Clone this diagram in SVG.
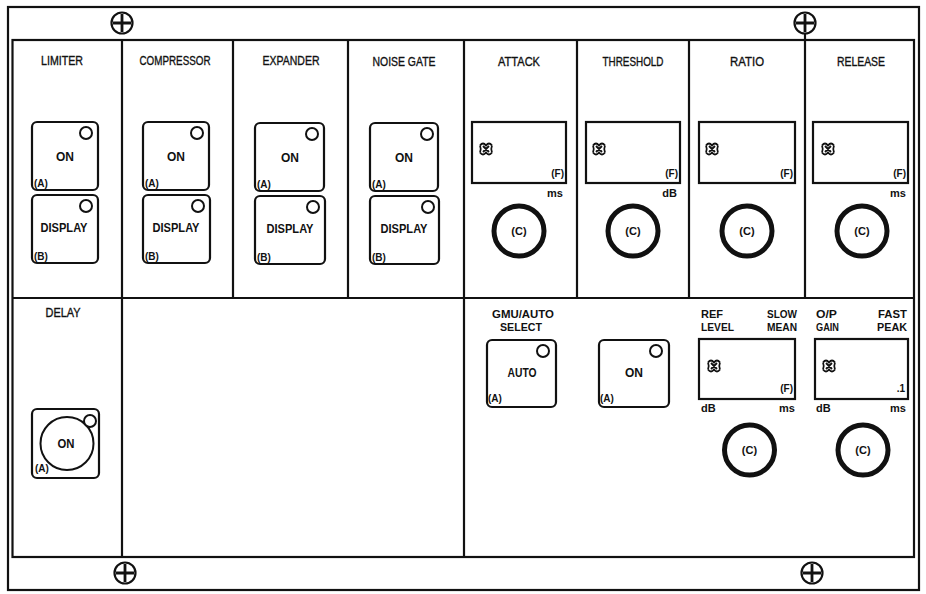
<svg xmlns="http://www.w3.org/2000/svg" width="926" height="594" viewBox="0 0 926 594">
<defs>
<style>
text{font-family:"Liberation Sans",Arial,sans-serif;fill:#111}
.hd{font-size:13px;text-anchor:middle;stroke:#111;stroke-width:0.35}
.bt{font-size:12px;font-weight:bold;text-anchor:middle}
.sm{font-size:10px;font-weight:bold}
.un{font-size:11px;font-weight:bold;text-anchor:end}
.us{font-size:11px;font-weight:bold;text-anchor:start}
.kn{font-size:11px;font-weight:bold;text-anchor:middle}
.lb{font-size:10.5px;font-weight:bold}
.ln{fill:none;stroke:#111;stroke-width:2.2}
.btn{fill:#fff;stroke:#111;stroke-width:2.2}
.led{fill:#fff;stroke:#111;stroke-width:2}
.disp{fill:#fff;stroke:#111;stroke-width:2.2}
.knob{fill:#fff;stroke:#111;stroke-width:5}
.scr{fill:none;stroke:#111;stroke-width:2.2}
.gl{fill:none;stroke:#111;stroke-width:1.8}
</style>
<g id="seg" class="gl">
<path d="M1,3.5 q3,-4 6,0 q3,-4 6,0 M1,10.5 q3,4 6,0 q3,4 6,0 M1,3.5 q1.5,3.5 0,7 M13,3.5 q-1.5,3.5 0,7 M4,4 l6,6 M10,4 l-6,6"/>
</g>
<g id="screw">
<circle r="10.5" class="scr"/>
<path d="M-9,0 H9 M0,-9 V9" stroke="#111" stroke-width="2.8"/>
</g>
</defs>
<rect width="926" height="594" fill="#fff"/>

<g id="frame">
<rect x="8" y="7" width="911" height="583" class="ln"/>
<rect x="12.5" y="40" width="901.5" height="517" class="ln"/>
<path class="ln" d="M12.5,298 H914 M122,40 V557 M233,40 V298 M348,40 V298 M464,40 V557 M577,40 V298 M689,40 V298 M805,34 V298"/>
<use href="#screw" x="122" y="23"/>
<use href="#screw" x="805" y="23"/>
<use href="#screw" x="125" y="573"/>
<use href="#screw" x="812" y="573"/>
</g>

<g id="limiter">
<text class="hd" x="62" y="65" textLength="42" lengthAdjust="spacingAndGlyphs">LIMITER</text>
<rect class="btn" x="32" y="122" width="66" height="68" rx="5"/>
<circle class="led" cx="86" cy="133" r="6"/>
<text class="bt" x="65" y="161" textLength="18" lengthAdjust="spacingAndGlyphs">ON</text>
<text class="sm" x="34" y="187">(A)</text>
<rect class="btn" x="32" y="195" width="66" height="68" rx="5"/>
<circle class="led" cx="86" cy="206" r="6"/>
<text class="bt" x="64" y="232" textLength="47" lengthAdjust="spacingAndGlyphs">DISPLAY</text>
<text class="sm" x="34" y="260">(B)</text>
</g>

<g id="compressor">
<text class="hd" x="175" y="65" textLength="71" lengthAdjust="spacingAndGlyphs">COMPRESSOR</text>
<rect class="btn" x="143" y="122" width="66" height="68" rx="5"/>
<circle class="led" cx="197" cy="133" r="6"/>
<text class="bt" x="176" y="161" textLength="18" lengthAdjust="spacingAndGlyphs">ON</text>
<text class="sm" x="145" y="187">(A)</text>
<rect class="btn" x="143" y="195" width="67" height="68" rx="5"/>
<circle class="led" cx="198" cy="206" r="6"/>
<text class="bt" x="176" y="232" textLength="47" lengthAdjust="spacingAndGlyphs">DISPLAY</text>
<text class="sm" x="145" y="260">(B)</text>
</g>

<g id="expander">
<text class="hd" x="291" y="65" textLength="57" lengthAdjust="spacingAndGlyphs">EXPANDER</text>
<rect class="btn" x="255" y="123" width="69" height="68" rx="5"/>
<circle class="led" cx="312" cy="134" r="6"/>
<text class="bt" x="290" y="162" textLength="18" lengthAdjust="spacingAndGlyphs">ON</text>
<text class="sm" x="257" y="188">(A)</text>
<rect class="btn" x="255" y="196" width="70" height="68" rx="5"/>
<circle class="led" cx="313" cy="207" r="6"/>
<text class="bt" x="290" y="233" textLength="47" lengthAdjust="spacingAndGlyphs">DISPLAY</text>
<text class="sm" x="257" y="261">(B)</text>
</g>

<g id="noise-gate">
<text class="hd" x="404" y="66" textLength="63" lengthAdjust="spacingAndGlyphs">NOISE GATE</text>
<rect class="btn" x="370" y="123" width="68" height="68" rx="5"/>
<circle class="led" cx="427" cy="134" r="6"/>
<text class="bt" x="404" y="162" textLength="18" lengthAdjust="spacingAndGlyphs">ON</text>
<text class="sm" x="372" y="188">(A)</text>
<rect class="btn" x="370" y="196" width="69" height="68" rx="5"/>
<circle class="led" cx="428" cy="207" r="6"/>
<text class="bt" x="404" y="233" textLength="47" lengthAdjust="spacingAndGlyphs">DISPLAY</text>
<text class="sm" x="372" y="261">(B)</text>
</g>

<g id="attack">
<text class="hd" x="519" y="66" textLength="42" lengthAdjust="spacingAndGlyphs">ATTACK</text>
<rect class="disp" x="472" y="122" width="94" height="61"/>
<use href="#seg" x="479" y="142"/>
<text class="sm" x="564" y="177" text-anchor="end">(F)</text>
<text class="un" x="563" y="197">ms</text>
<circle class="knob" cx="519" cy="231" r="25"/>
<text class="kn" x="519" y="235">(C)</text>
</g>

<g id="threshold">
<text class="hd" x="633" y="66" textLength="61" lengthAdjust="spacingAndGlyphs">THRESHOLD</text>
<rect class="disp" x="586" y="122" width="94" height="61"/>
<use href="#seg" x="592" y="142"/>
<text class="sm" x="678" y="177" text-anchor="end">(F)</text>
<text class="un" x="677" y="197">dB</text>
<circle class="knob" cx="633" cy="231" r="25"/>
<text class="kn" x="633" y="235">(C)</text>
</g>

<g id="ratio">
<text class="hd" x="747" y="66" textLength="34" lengthAdjust="spacingAndGlyphs">RATIO</text>
<rect class="disp" x="699" y="122" width="96" height="61"/>
<use href="#seg" x="705" y="142"/>
<text class="sm" x="793" y="177" text-anchor="end">(F)</text>
<circle class="knob" cx="747" cy="231" r="25"/>
<text class="kn" x="747" y="235">(C)</text>
</g>

<g id="release">
<text class="hd" x="861" y="66" textLength="48" lengthAdjust="spacingAndGlyphs">RELEASE</text>
<rect class="disp" x="813" y="122" width="95" height="61"/>
<use href="#seg" x="821" y="142"/>
<text class="sm" x="906" y="177" text-anchor="end">(F)</text>
<text class="un" x="906" y="197">ms</text>
<circle class="knob" cx="862" cy="231" r="25"/>
<text class="kn" x="862" y="235">(C)</text>
</g>

<g id="delay">
<text class="hd" x="63" y="317" textLength="35" lengthAdjust="spacingAndGlyphs">DELAY</text>
<rect class="btn" x="32" y="409" width="67" height="69" rx="5"/>
<circle cx="67" cy="443.5" r="26.5" fill="none" stroke="#111" stroke-width="2"/>
<circle class="led" cx="90" cy="421" r="6"/>
<text class="bt" x="66" y="448" textLength="17" lengthAdjust="spacingAndGlyphs">ON</text>
<text class="sm" x="35" y="472">(A)</text>
</g>

<g id="gmu-auto-select">
<text class="lb" x="523" y="318" text-anchor="middle" textLength="62" lengthAdjust="spacingAndGlyphs">GMU/AUTO</text>
<text class="lb" x="521" y="331" text-anchor="middle" textLength="42" lengthAdjust="spacingAndGlyphs">SELECT</text>
<rect class="btn" x="487" y="340" width="69" height="67" rx="5"/>
<circle class="led" cx="543" cy="351" r="6"/>
<text class="bt" x="522" y="377" textLength="29" lengthAdjust="spacingAndGlyphs">AUTO</text>
<text class="sm" x="488" y="402">(A)</text>
</g>

<g id="on-button">
<rect class="btn" x="599" y="340" width="70" height="67" rx="5"/>
<circle class="led" cx="656" cy="351" r="6"/>
<text class="bt" x="634" y="377" textLength="18" lengthAdjust="spacingAndGlyphs">ON</text>
<text class="sm" x="600" y="402">(A)</text>
</g>

<g id="ref-level">
<text class="lb" x="701" y="318" textLength="22" lengthAdjust="spacingAndGlyphs">REF</text>
<text class="lb" x="701" y="331" textLength="33" lengthAdjust="spacingAndGlyphs">LEVEL</text>
<text class="lb" x="797" y="318" text-anchor="end" textLength="30" lengthAdjust="spacingAndGlyphs">SLOW</text>
<text class="lb" x="797" y="331" text-anchor="end" textLength="30" lengthAdjust="spacingAndGlyphs">MEAN</text>
<rect class="disp" x="699" y="339" width="96" height="60"/>
<use href="#seg" x="707" y="359"/>
<text class="sm" x="793" y="392" text-anchor="end">(F)</text>
<text class="us" x="701" y="412">dB</text>
<text class="un" x="795" y="412">ms</text>
<circle class="knob" cx="749.5" cy="450" r="25"/>
<text class="kn" x="749.5" y="454">(C)</text>
</g>

<g id="op-gain">
<text class="lb" x="816" y="318" textLength="21" lengthAdjust="spacingAndGlyphs">O/P</text>
<text class="lb" x="816" y="331" textLength="23" lengthAdjust="spacingAndGlyphs">GAIN</text>
<text class="lb" x="907" y="318" text-anchor="end" textLength="29" lengthAdjust="spacingAndGlyphs">FAST</text>
<text class="lb" x="907" y="331" text-anchor="end" textLength="30" lengthAdjust="spacingAndGlyphs">PEAK</text>
<rect class="disp" x="815" y="339" width="93" height="60"/>
<use href="#seg" x="822" y="359"/>
<text class="sm" x="905" y="392" text-anchor="end">.1</text>
<text class="us" x="816" y="412">dB</text>
<text class="un" x="906" y="412">ms</text>
<circle class="knob" cx="863" cy="450" r="25"/>
<text class="kn" x="863" y="454">(C)</text>
</g>
</svg>
